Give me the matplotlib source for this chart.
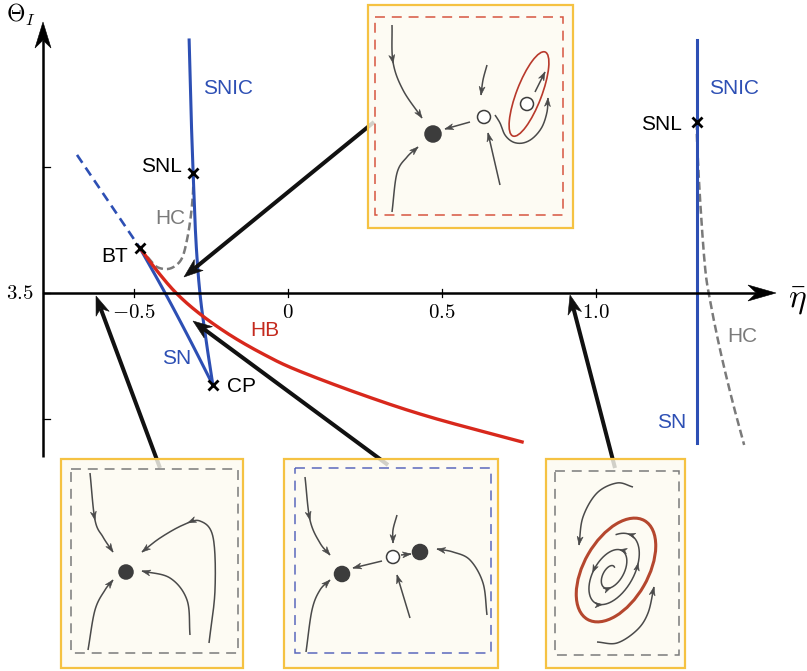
import numpy as np
import matplotlib.pyplot as plt
from matplotlib.patches import Polygon, Rectangle, Ellipse, Circle

plt.rcParams['mathtext.fontset'] = 'cm'
plt.rcParams['font.family'] = ['Liberation Sans', 'DejaVu Sans']

W, H = 807, 671

# two-parameter bifurcation curves, (eta_bar, Theta_I)
snic_l_eta = [-0.321, -0.315, -0.308, -0.299, -0.286, -0.266, -0.244]
snic_l_th = [4.504, 4.226, 3.976, 3.710, 3.500, 3.313, 3.135]
sn_l_eta = [-0.481, -0.399, -0.318, -0.244]
sn_l_th = [3.679, 3.500, 3.313, 3.135]
sn_dash_eta = [-0.685, -0.481]
sn_dash_th = [4.048, 3.679]
hc_l_eta = [-0.481, -0.448, -0.425, -0.393, -0.367, -0.344, -0.328, -0.315, -0.308, -0.308]
hc_l_th = [3.679, 3.631, 3.603, 3.595, 3.607, 3.639, 3.710, 3.810, 3.909, 3.976]
hb_eta = [-0.481, -0.422, -0.360, -0.286, -0.188, -0.081, 0.029, 0.244, 0.461, 0.760]
hb_th = [3.679, 3.583, 3.496, 3.417, 3.333, 3.258, 3.194, 3.095, 3.008, 2.909]
sn_r_eta = [1.328, 1.328]
sn_r_th = [4.504, 2.905]
hc_r_eta = [1.328, 1.328, 1.338, 1.354, 1.370, 1.403, 1.442, 1.481]
hc_r_th = [4.179, 4.107, 3.869, 3.603, 3.472, 3.274, 3.075, 2.897]

# codimension-two points
bt = (-0.481, 3.679)
snl_l = (-0.308, 3.976)
cp = (-0.244, 3.135)
snl_r = (1.328, 4.179)

eta_ticks = [-0.5, 0.0, 0.5, 1.0]
eta_tick_labels = [r'$-0.5$', r'$0$', r'$0.5$', r'$1.0$']
th_ticks = [3.0, 3.5, 4.0]
th_tick_labels = ['', r'$3.5$', '']

BLUE = '#2d4fb4'
RED = '#d8281c'
GREY = '#7a7a7a'
STREAM = '#4a4a4a'


def smooth(pts, n=24):
    p = np.asarray(pts, float)
    if len(p) < 3:
        return p
    p = np.vstack([2 * p[0] - p[1], p, 2 * p[-1] - p[-2]])
    out = []
    t = np.linspace(0, 1, n, endpoint=False)[:, None]
    for i in range(1, len(p) - 2):
        p0, p1, p2, p3 = p[i - 1], p[i], p[i + 1], p[i + 2]
        out.append(0.5 * (2 * p1 + (-p0 + p2) * t + (2 * p0 - 5 * p1 + 4 * p2 - p3) * t ** 2
                          + (-p0 + 3 * p1 - 3 * p2 + p3) * t ** 3))
    out.append(p[-2][None])
    return np.vstack(out)


def head(a, tip, d, length, width, color, z, notch=0.3):
    tip = np.asarray(tip, float)
    d = np.asarray(d, float)
    d = d / np.hypot(*d)
    n = np.array([-d[1], d[0]])
    back = tip - d * length
    mid = tip - d * length * (1 - notch)
    a.add_patch(Polygon([tip, back + n * width / 2, mid, back - n * width / 2],
                        closed=True, fc=color, ec=color, lw=0.4, zorder=z))
    return mid


def big_arrow(a, tail, tip, lw=2.9, length=19, width=14, z=3):
    tail = np.asarray(tail, float)
    tip = np.asarray(tip, float)
    mid = head(a, tip, tip - tail, length, width, '#111111', z)
    a.plot([tail[0], mid[0]], [tail[1], mid[1]], color='#111111', lw=lw,
           solid_capstyle='butt', zorder=z)


def stream(a, pts, off, marks=(1.0,), color=STREAM, lw=1.1, z=7):
    p = smooth(np.asarray(pts, float) + off)
    a.plot(p[:, 0], p[:, 1], color=color, lw=lw, zorder=z, solid_capstyle='butt')
    seg = np.hypot(*np.diff(p, axis=0).T)
    s = np.concatenate([[0], np.cumsum(seg)])
    for f in marks:
        i = int(np.clip(np.searchsorted(s, f * s[-1]), 1, len(p) - 1))
        j = min(i + 1, len(p) - 1)
        head(a, p[i], p[j] - p[i - 1], 8.5, 6.0, color, z + 0.1)


fig = plt.figure(figsize=(W / 100, H / 100), dpi=100)
ax = fig.add_axes([0, 0, 1, 1])
ax.set_xlim(-288 / 308, (W - 288) / 308)
ax.set_ylim(3.5 - (H - 293) / 252, 3.5 + 293 / 252)
ax.axis('off')

lay = fig.add_axes([0, 0, 1, 1])
lay.set_xlim(0, W)
lay.set_ylim(H, 0)
lay.axis('off')
lay.patch.set_alpha(0)
lay.set_zorder(2)

# bifurcation curves
def curve(xs, ys, **kw):
    p = smooth(np.column_stack([xs, ys]))
    ax.plot(p[:, 0], p[:, 1], **kw)

curve(hc_l_eta, hc_l_th, color=GREY, lw=1.8, dashes=(3.2, 1.6), zorder=2)
curve(hc_r_eta, hc_r_th, color=GREY, lw=1.8, dashes=(3.2, 1.6), zorder=2)
curve(sn_dash_eta, sn_dash_th, color=BLUE, lw=1.9, dashes=(3.6, 2.2), zorder=3)
curve(sn_l_eta, sn_l_th, color=BLUE, lw=2.2, zorder=3)
curve(snic_l_eta, snic_l_th, color=BLUE, lw=2.2, zorder=3)
curve(sn_r_eta, sn_r_th, color=BLUE, lw=2.2, zorder=3)
curve(hb_eta, hb_th, color=RED, lw=2.4, zorder=4)
for pt in (bt, snl_l, cp, snl_r):
    ax.plot(*pt, marker='x', ms=7, mew=2.0, color='k', zorder=6)

# axes with ticks
AX_ETA = -0.7955
for t, lbl in zip(eta_ticks, eta_tick_labels):
    ax.plot([t, t], [3.5 - 0.016, 3.5 + 0.016], color='k', lw=0.9, zorder=1)
    ax.annotate(lbl, (t, 3.5), xytext=(0, -7.5), textcoords='offset points',
                ha='center', va='top', fontsize=15)
for t, lbl in zip(th_ticks, th_tick_labels):
    ax.plot([AX_ETA, AX_ETA + 0.023], [t, t], color='k', lw=0.9, zorder=1)
    if lbl:
        ax.annotate(lbl, (AX_ETA, t), xytext=(-7, 0), textcoords='offset points',
                    ha='right', va='center', fontsize=15)

mid = head(lay, (43, 22), (0, -1), 26, 16, 'k', 3)
lay.plot([43, 43], [457, mid[1]], color='k', lw=1.8, zorder=3, solid_capstyle='butt')
mid = head(lay, (776, 293), (1, 0), 28, 16, 'k', 3)
lay.plot([43, mid[0]], [293, 293], color='k', lw=1.8, zorder=3, solid_capstyle='butt')
lay.text(6, 15, r'$\Theta_I$', fontsize=17, ha='left', va='center')
lay.text(788, 301, r'$\bar{\eta}$', fontsize=24, ha='left', va='center')

# curve labels
fs = 15
lay.text(228, 89, 'SNIC', color=BLUE, fontsize=fs, ha='center', va='center')
lay.text(161, 166, 'SNL', color='k', fontsize=fs, ha='center', va='center')
lay.text(170, 218, 'HC', color=GREY, fontsize=fs, ha='center', va='center')
lay.text(115, 257, 'BT', color='k', fontsize=fs, ha='center', va='center')
lay.text(177, 358, 'SN', color=BLUE, fontsize=fs, ha='center', va='center')
lay.text(242, 386, 'CP', color='k', fontsize=fs, ha='center', va='center')
lay.text(265, 331, 'HB', color='#c42a1e', fontsize=fs, ha='center', va='center')
lay.text(734, 89, 'SNIC', color=BLUE, fontsize=fs, ha='center', va='center')
lay.text(661, 124, 'SNL', color='k', fontsize=fs, ha='center', va='center')
lay.text(742, 336, 'HC', color=GREY, fontsize=fs, ha='center', va='center')
lay.text(672, 423, 'SN', color=BLUE, fontsize=fs, ha='center', va='center')

# arrows from the phase portraits to their parameter regions
big_arrow(lay, (374, 122), (184, 277))
big_arrow(lay, (160, 468), (96, 296))
big_arrow(lay, (388, 465), (193, 321))
big_arrow(lay, (615, 468), (570, 295))


def panel(box, inner, dash_color):
    x0, y0, w, h = box
    lay.add_patch(Rectangle((x0, y0), w, h, fc=(0.992, 0.984, 0.945, 0.82),
                            ec='#f5c242', lw=1.6, zorder=5))
    ix0, iy0, ix1, iy1 = inner
    lay.add_patch(Rectangle((x0 + ix0, y0 + iy0), ix1 - ix0, iy1 - iy0, fill=False,
                            ec=dash_color, lw=1.1, ls=(0, (6.5, 4.5)), zorder=6))
    return np.array([x0, y0], float)


def dot(off, c, r, filled):
    lay.add_patch(Circle(np.asarray(c, float) + off, r,
                         fc='#3c3c3c' if filled else 'white', ec='#3c3c3c',
                         lw=1.1, zorder=8))


# panel above: stable node, saddle, unstable focus inside a limit cycle
off = panel((368, 5, 205, 223), (7, 12, 195, 210), '#d6553f')
lay.add_patch(Ellipse(off + (161, 89), 90, 25, angle=-69, fill=False,
                      ec='#b8392b', lw=1.2, zorder=7))
dot(off, (65, 129), 8, True)
dot(off, (116, 112), 6.5, False)
dot(off, (159, 99), 6.5, False)
stream(lay, [(24, 20), (25, 57), (35, 85), (54, 113)], off, marks=(0.38, 1.0))
stream(lay, [(24, 207), (29, 168), (39, 152), (50, 142)], off)
stream(lay, [(102, 117), (77, 124)], off)
stream(lay, [(119, 60), (115, 75), (113, 90)], off)
stream(lay, [(132, 180), (120, 128)], off)
stream(lay, [(127, 110), (132, 118), (137, 130), (145, 137), (155, 138), (165, 133),
             (174, 122), (179, 107), (180, 93)], off)
stream(lay, [(167, 87), (177, 67)], off)

# lower left: single stable node
off = panel((61, 459, 182, 209), (10, 10, 177, 194), '#7a7a7a')
dot(off, (65, 113), 7, True)
stream(lay, [(29, 14), (34, 61), (42, 78), (52, 93)], off, marks=(0.55, 1.0))
stream(lay, [(27, 191), (34, 151), (44, 131), (52, 121)], off)
stream(lay, [(129, 176), (126, 141), (109, 119), (81, 112)], off)
stream(lay, [(148, 184), (154, 131), (152, 78), (139, 62), (122, 66), (99, 79), (81, 93)],
       off, marks=(0.72, 1.0))

# lower middle: two stable nodes separated by a saddle
off = panel((284, 459, 214, 209), (11, 9, 207, 194), '#5b68bd')
dot(off, (58, 115), 7.5, True)
dot(off, (109, 98), 6.5, False)
dot(off, (136, 93), 7.5, True)
stream(lay, [(21, 18), (26, 61), (36, 84), (46, 96)], off, marks=(0.5, 1.0))
stream(lay, [(22, 193), (28, 151), (36, 131), (46, 121)], off)
stream(lay, [(98, 102), (69, 109)], off)
stream(lay, [(113, 56), (109, 71), (109, 84)], off)
stream(lay, [(126, 159), (113, 116)], off)
stream(lay, [(117, 96), (127, 95)], off)
stream(lay, [(203, 156), (199, 124), (186, 101), (169, 93), (153, 90)], off)

# lower right: unstable focus surrounded by a stable limit cycle
off = panel((546, 459, 139, 209), (9, 12, 133, 196), '#7a7a7a')
lay.add_patch(Ellipse(off + (70, 111), 114, 64, angle=-60, fill=False,
                      ec='#b5472e', lw=2.2, zorder=7))
t = np.linspace(0, 4.2 * np.pi, 500)
s = 0.12 + 0.66 * t / t[-1]
u, v = 57 * s * np.cos(t), 32 * s * np.sin(t)
ang = np.deg2rad(60)
sx = 65 + u * np.cos(ang) - v * np.sin(ang)
sy = 114 - (u * np.sin(ang) + v * np.cos(ang))
spiral = np.column_stack([sx, sy]) + off
lay.plot(spiral[:, 0], spiral[:, 1], color=STREAM, lw=1.1, zorder=7)
for f in (0.3, 0.5, 0.62, 0.75, 0.88, 0.97):
    i = int(f * (len(spiral) - 2))
    head(lay, spiral[i], spiral[i + 1] - spiral[i - 1], 7.5, 5.5, STREAM, 7.1)
stream(lay, [(87, 28), (71, 24), (51, 34), (37, 58), (33, 86)], off)
stream(lay, [(51, 183), (71, 184), (91, 171), (102, 154), (108, 128)], off)

fig.savefig('out.png', dpi=100)
